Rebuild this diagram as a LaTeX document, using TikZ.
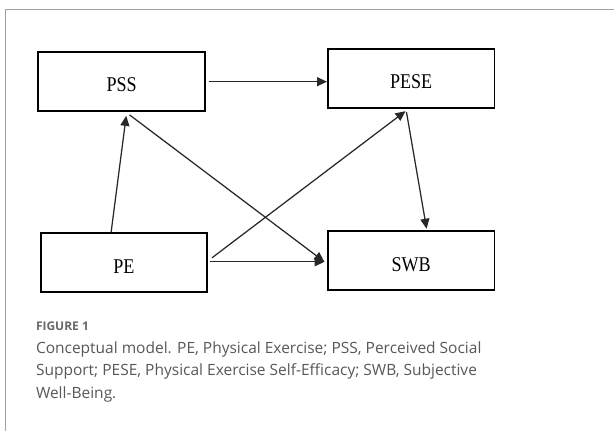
\documentclass[tikz,border=0pt]{standalone}
\usepackage{fontspec}
\usepackage{graphicx}
\usetikzlibrary{arrows.meta,calc}
\newfontfamily\boxfont{Liberation Serif}
\newfontfamily\capfont{Open Sans}
\definecolor{framegray}{RGB}{160,160,160}
\definecolor{capgray}{RGB}{88,88,88}
\definecolor{figgray}{RGB}{105,105,105}
\definecolor{arrowgray}{RGB}{40,40,40}
\newcommand{\boxlabel}[1]{\scalebox{0.86}[1]{#1}}
\begin{document}
\begin{tikzpicture}[x=1pt,y=-1pt,
  box/.style={draw=black,line width=1.9pt,minimum width=166.5pt,minimum height=59pt,
    inner sep=0pt,font=\boxfont\fontsize{21}{21}\selectfont,text height=21pt,text depth=0pt},
  conn/.style={draw=arrowgray,line width=1.25pt,-{Triangle[length=10pt,width=9pt]}},
  captext/.style={anchor=base west,inner sep=0pt,text=capgray,font=\capfont\fontsize{15.5}{15.5}\selectfont}]
\useasboundingbox (0,0) rectangle (614,431);
\fill[white] (0,0) rectangle (614,431);
% frame
\coordinate (ftop) at (5.5,9.5);
\coordinate (fbot) at (5.5,431);
\coordinate (fright) at (614,9.5);
\draw[framegray,line width=1.7pt] (fbot) -- (ftop) -- (fright);
% boxes
\node[box] (pss)  at (121.6,81.4) {\boxlabel{PSS}};
\node[box] (pese) at (411.2,78.4) {\boxlabel{PESE}};
\node[box] (pe)   at (123.8,262.8) {\boxlabel{PE}};
\node[box] (swb)  at (411.2,260.9) {\boxlabel{SWB}};
% connectors
\draw[conn] ([xshift=2.7pt]pss.east |- 0,81.7) -- (pese.west |- 0,81.7);
\draw[conn] ([xshift=-12.7pt]pe.north) -- ([xshift=4.6pt,yshift=-4pt]pss.south);
\draw[conn] ([xshift=7.9pt,yshift=-3pt]pss.south) -- ([xshift=-2.7pt,yshift=-0.8pt]swb.west);
\draw[conn] ([xshift=4pt,yshift=5pt]pe.east) -- ([xshift=-5.7pt,yshift=-2.3pt]pese.south);
\draw[conn] ([xshift=1.7pt,yshift=1.1pt]pe.east) -- ([xshift=-2.3pt,yshift=-0.8pt]swb.west);
\draw[conn] ([xshift=-4.7pt,yshift=-3.3pt]pese.south) -- ([xshift=15.4pt,yshift=1.7pt]swb.north);
% caption
\node[anchor=base west,inner sep=0pt,text=figgray,font=\capfont\bfseries\fontsize{12}{12}\selectfont] (fig) at (35.8,330) {FIGURE 1};
\node[captext] (cap1) at (35.8,353) {Conceptual model. PE, Physical Exercise; PSS, Perceived Social};
\node[captext] (cap2) at (35.8,375.5) {Support; PESE, Physical Exercise Self-Efficacy; SWB, Subjective};
\node[captext] (cap3) at (35.8,398) {Well-Being.};
\end{tikzpicture}
\end{document}
